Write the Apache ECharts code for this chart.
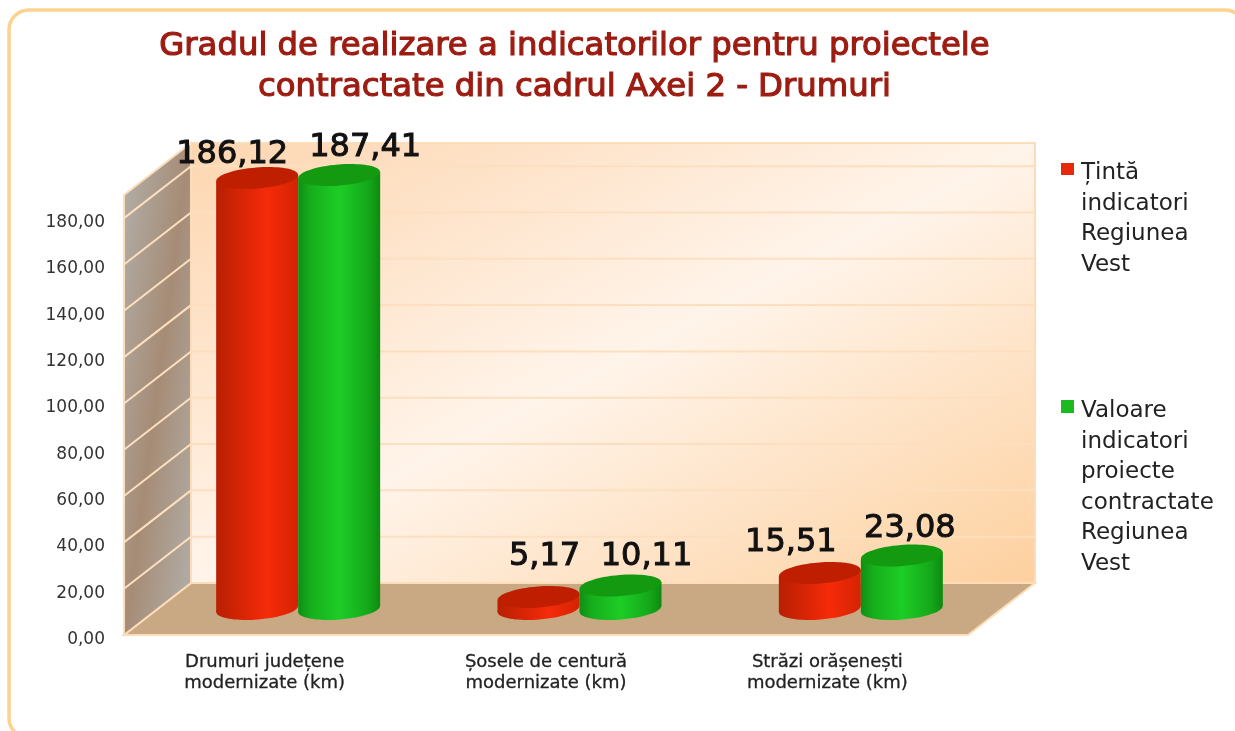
<!DOCTYPE html>
<html>
<head>
<meta charset="utf-8">
<title>Gradul de realizare</title>
<script src="https://cdn.jsdelivr.net/npm/echarts@6/dist/echarts.min.js"></script>
<style>
html,body{margin:0;padding:0;background:#fff;}
#chart{width:1235px;height:731px;}
</style>
</head>
<body>
<div id="chart"></div>
<script>
const categories = ['Drumuri județene\nmodernizate (km)', 'Șosele de centură\nmodernizate (km)', 'Străzi orășenești\nmodernizate (km)'];
const tinta = [186.12, 5.17, 15.51];
const valoare = [187.41, 10.11, 23.08];
const yTicks = [0, 20, 40, 60, 80, 100, 120, 140, 160, 180];
const tintaName = 'Țintă\nindicatori\nRegiunea\nVest';
const valoareName = 'Valoare\nindicatori\nproiecte\ncontractate\nRegiunea\nVest';

// 3d look: how far the back wall sits from the front plane, in pixels
const depthX = 67, depthY = -52;
const barRx = 41, barRy = 10.5, tilt = 0.08;

const comma = v => v.toFixed(2).replace('.', ',');
const linear = (x, y, x2, y2, stops) => ({
    type: 'linear', x: x, y: y, x2: x2, y2: y2,
    colorStops: stops.map(s => ({ offset: s[0], color: s[1] }))
});

// floor, back wall and side wall, drawn once
function renderRoom(params, api) {
    const g = params.coordSys;
    const y0 = api.coord([0, 0])[1];
    const yTop = api.coord([0, 190])[1];
    const l = g.x, r = g.x + g.width;
    return {
        type: 'group',
        children: [
            // gradient ends picked so the light band runs corner to corner
            { type: 'polygon', shape: { points: [[l + depthX, yTop + depthY], [r + depthX, yTop + depthY], [r + depthX, y0 + depthY], [l + depthX, y0 + depthY]] },
              style: { fill: linear(0.286, -0.286, 0.714, 1.286, [[0, '#fdd6b0'], [0.5, '#fff4ea'], [1, '#fdd09e']]), stroke: '#fddcb9', lineWidth: 2 } },
            { type: 'polygon', shape: { points: [[l, y0], [l + depthX, y0 + depthY], [r + depthX, y0 + depthY], [r, y0]] },
              style: { fill: '#c8a983', stroke: '#fddcb9', lineWidth: 2 } },
            { type: 'polygon', shape: { points: [[l, y0], [l, yTop], [l + depthX, yTop + depthY], [l + depthX, y0 + depthY]] },
              style: { fill: linear(-0.482, 0.482, 1.482, 0.518, [[0.1, '#b0aaa2'], [0.5, '#a68c76'], [0.9, '#b0aaa2']]), stroke: '#fddcb9', lineWidth: 2 } }
        ]
    };
}

// one line per tick: along the side wall then along the back wall
function renderGrid(params, api) {
    const g = params.coordSys;
    const y = api.coord([0, api.value(0)])[1];
    return {
        type: 'polyline',
        shape: { points: [[g.x, y], [g.x + depthX, y + depthY], [g.x + g.width + depthX, y + depthY]] },
        style: { fill: null, stroke: '#fddfc0', lineWidth: 2 }
    };
}

const labelNudge = {
    red: [[-25, 4], [6, -13], [-29, -3]],
    green: [[26, 0], [26, -2], [8, 0]]
};

function cylinderRenderer(side, top, stops, nudges) {
    return function (params, api) {
        const i = api.value(0), v = api.value(1);
        const base = api.coord([i, 0]);
        const head = api.coord([i, v]);
        const cx = base[0] + depthX / 2 + side * barRx;
        const by = base[1] + depthY / 2;
        const ty = head[1] + depthY / 2;
        const d = barRx * Math.sin(tilt);
        const fill = linear(0, 0, 1, 0, stops);
        return {
            type: 'group',
            children: [
                { type: 'ellipse', x: cx, y: by, rotation: tilt, shape: { cx: 0, cy: 0, rx: barRx, ry: barRy }, style: { fill: fill } },
                { type: 'polygon', shape: { points: [[cx - barRx, ty + d], [cx + barRx, ty - d], [cx + barRx, by - d], [cx - barRx, by + d]] }, style: { fill: fill } },
                { type: 'ellipse', x: cx, y: ty, rotation: tilt, shape: { cx: 0, cy: 0, rx: barRx, ry: barRy }, style: { fill: top } },
                { type: 'text', x: cx + nudges[i][0], y: ty - 27 + nudges[i][1],
                  style: { text: comma(v), font: '32px "DejaVu Sans"', fill: '#111', stroke: '#111', lineWidth: 1, align: 'center', verticalAlign: 'middle' } }
            ]
        };
    };
}

const chart = echarts.init(document.getElementById('chart'));
chart.setOption({
    animation: false,
    backgroundColor: '#fff',
    textStyle: { fontFamily: 'DejaVu Sans' },
    title: {
        text: 'Gradul de realizare a indicatorilor pentru proiectele\ncontractate din cadrul Axei 2 - Drumuri',
        left: 574.5, top: 26, textAlign: 'center', padding: 0,
        textStyle: { color: '#9c1c12', fontFamily: 'DejaVu Sans', fontWeight: 'normal', fontSize: 32.3, lineHeight: 41, textBorderColor: '#9c1c12', textBorderWidth: 1.2 }
    },
    graphic: [{
        type: 'rect', z: -10, silent: true,
        shape: { x: 9, y: 10, width: 1236, height: 728, r: 20 },
        style: { fill: null, stroke: '#fdd28f', lineWidth: 3.5 }
    }],
    legend: [
        {
            data: [tintaName], left: 1056, top: 153, orient: 'vertical',
            itemWidth: 13, itemHeight: 122, itemGap: 0, selectedMode: false,
            icon: 'path://M0 0L0 0M0 5L13 5L13 17L0 17ZM0 122L0 122',
            textStyle: { color: '#222', fontSize: 23, lineHeight: 30.5, padding: [0, 0, 0, 2] }
        },
        {
            data: [valoareName], left: 1056, top: 391, orient: 'vertical',
            itemWidth: 13, itemHeight: 183, itemGap: 0, selectedMode: false,
            icon: 'path://M0 0L0 0M0 4L13 4L13 17L0 17ZM0 183L0 183',
            textStyle: { color: '#222', fontSize: 23, lineHeight: 30.5, padding: [0, 0, 0, 2] }
        }
    ],
    grid: { left: 124, top: 195, width: 844, height: 440, containLabel: false },
    xAxis: {
        type: 'category', data: categories,
        axisLine: { show: false }, axisTick: { show: false },
        axisLabel: { color: '#222', fontSize: 18, lineHeight: 21, margin: 17, interval: 0, textBorderColor: '#222', textBorderWidth: 0.3 }
    },
    yAxis: {
        type: 'value', min: 0, max: 190,
        axisLine: { show: false }, axisTick: { show: false }, splitLine: { show: false },
        axisLabel: { color: '#333', fontSize: 17, margin: 19, verticalAlign: 'top', lineHeight: 9, customValues: yTicks, formatter: comma }
    },
    series: [
        { type: 'custom', silent: true, renderItem: renderRoom, data: [0], encode: { x: -1, y: -1 } },
        { type: 'custom', silent: true, renderItem: renderGrid, data: yTicks.slice(1), encode: { x: -1, y: 0 } },
        { type: 'custom', name: tintaName, itemStyle: { color: '#e8280a' },
          renderItem: cylinderRenderer(-1, '#bf1e00', [[0, '#b81f02'], [0.62, '#f52b09'], [1, '#d42303']], labelNudge.red),
          data: tinta.map((v, i) => [i, v]), encode: { x: 0, y: 1 } },
        { type: 'custom', name: valoareName, itemStyle: { color: '#1aba20' },
          renderItem: cylinderRenderer(1, '#149a10', [[0, '#0f8e14'], [0.15, '#16ae1c'], [0.5, '#1dcd26'], [0.85, '#15a81a'], [1, '#0d8a10']], labelNudge.green),
          data: valoare.map((v, i) => [i, v]), encode: { x: 0, y: 1 } }
    ]
});
</script>
</body>
</html>
